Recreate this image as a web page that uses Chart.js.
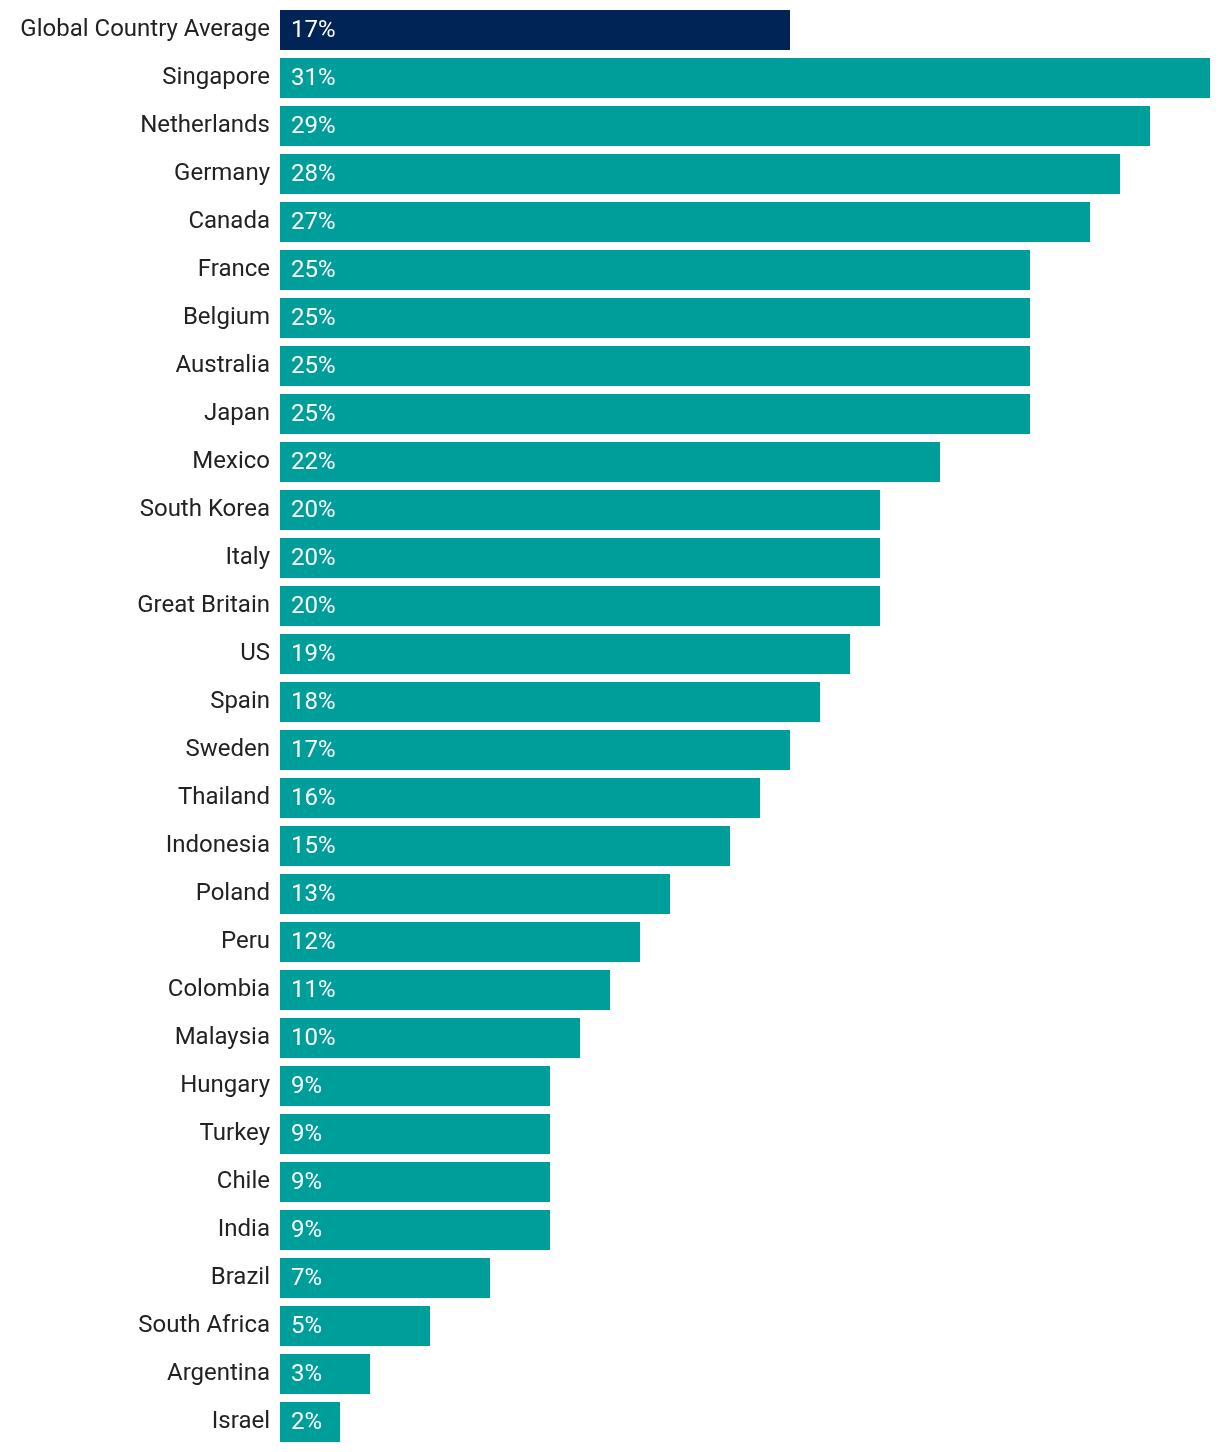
<!DOCTYPE html>
<html>
<head>
<meta charset="utf-8">
<script src="https://cdn.jsdelivr.net/npm/chart.js@4"></script>
<style>
  html, body { margin: 0; padding: 0; background: #fff; }
  #wrap { width: 1220px; height: 1452px; }
</style>
</head>
<body>
<div id="wrap"><canvas id="shareChart"></canvas></div>
<script>
const countries = [
    "Global Country Average", "Singapore", "Netherlands", "Germany", "Canada",
    "France", "Belgium", "Australia", "Japan", "Mexico", "South Korea", "Italy",
    "Great Britain", "US", "Spain", "Sweden", "Thailand", "Indonesia", "Poland",
    "Peru", "Colombia", "Malaysia", "Hungary", "Turkey", "Chile", "India",
    "Brazil", "South Africa", "Argentina", "Israel",
];
const shares = [
    17, 31, 29, 28, 27, 25, 25, 25, 25, 22, 20, 20, 20, 19, 18, 17, 16, 15, 13,
    12, 11, 10, 9, 9, 9, 9, 7, 5, 3, 2,
];
const barColors = countries.map((c, i) => (i === 0 ? "#002456" : "#009E9B"));

const FONT = "Roboto";
const FONT_SIZE = 24;

// white value labels inside the start of each bar
const valueLabels = {
    id: "valueLabels",
    afterDatasetsDraw(chart) {
        const ctx = chart.ctx;
        const meta = chart.getDatasetMeta(0);
        ctx.save();
        ctx.fillStyle = "#ffffff";
        ctx.font = FONT_SIZE + "px " + FONT;
        ctx.textAlign = "left";
        ctx.textBaseline = "middle";
        meta.data.forEach((bar, i) => {
            ctx.fillText(shares[i] + "%", bar.base + 11, bar.y + 1);
        });
        ctx.restore();
    },
};

const ctx = document.getElementById("shareChart").getContext("2d");
new Chart(ctx, {
    type: "bar",
    data: {
        labels: countries,
        datasets: [
            {
                data: shares,
                backgroundColor: barColors,
                categoryPercentage: 1,
                barPercentage: 40 / 48,
            },
        ],
    },
    options: {
        indexAxis: "y",
        responsive: true,
        maintainAspectRatio: false,
        animation: false,
        layout: { padding: { top: 6, bottom: 6, right: 10, left: 0 } },
        plugins: {
            legend: { display: false },
            tooltip: { enabled: false },
        },
        scales: {
            x: {
                min: 0,
                max: 31,
                display: false,
            },
            y: {
                border: { display: false },
                grid: { display: false, drawTicks: false },
                ticks: {
                    padding: 10,
                    color: "#222222",
                    font: { family: FONT, size: FONT_SIZE },
                },
                afterFit(scale) {
                    scale.width = 280;
                    scale.paddingTop = 0;
                    scale.paddingBottom = 0;
                },
            },
        },
    },
    plugins: [valueLabels],
});
</script>
</body>
</html>
